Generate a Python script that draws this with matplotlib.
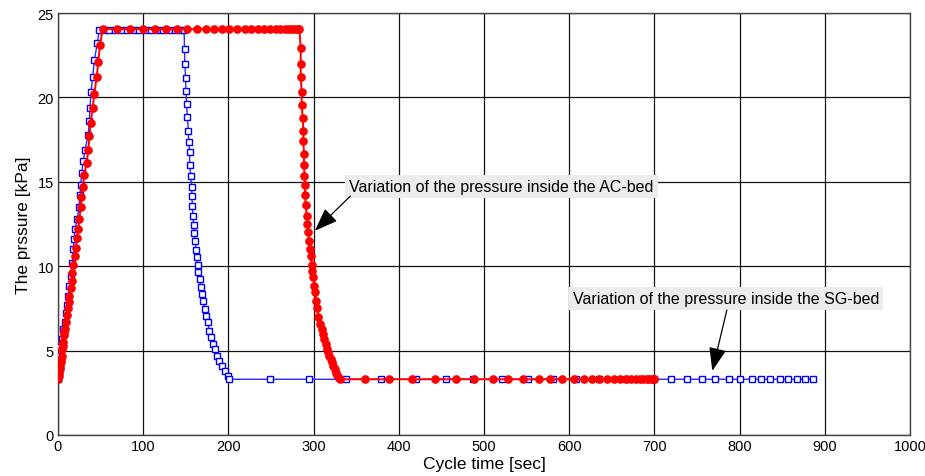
import matplotlib
matplotlib.use("Agg")
import matplotlib.pyplot as plt

plt.rcParams['font.family'] = ['Liberation Sans', 'DejaVu Sans']

# ---- SG-bed (blue squares) ----
sg_ramp_t = [0, 0.4, 1.5, 2.5, 4.3, 6.3, 7.8, 9.4, 10.8, 12.1, 13.5, 14.9, 16.8, 18.0, 18.8,
             20.0, 22.7, 24.5, 25.8, 26.6, 27.8, 29.7, 31.7, 35.6, 36.7, 37.6, 38.7, 40.7,
             42.6, 46.1, 48.5]
sg_ramp_p = [3.3, 4.1, 4.7, 5.2, 5.7, 6.3, 6.7, 7.2, 7.7, 8.25, 8.8, 9.4, 10.2, 11.0, 11.6,
             12.2, 12.8, 13.5, 14.2, 14.8, 15.5, 16.25, 16.9, 17.8, 18.6, 19.4, 20.3, 21.2,
             22.2, 23.2, 24.0]
sg_plateau_t = [54, 60, 67, 74, 81, 88, 95, 102, 109, 116, 123, 130, 137, 143, 148]
sg_plateau_p = [24.0] * len(sg_plateau_t)
sg_decay_t = [148.5, 148.8, 149.8, 150.2, 151.0, 151.8, 153.0, 153.4, 154.5, 154.5, 155.7,
              156.9, 157.3, 157.6, 158.4, 159.2, 160.0, 161.2, 161.9, 162.7, 164.3, 164.7,
              166.2, 167.4, 169.0, 170.6, 172.2, 173.7, 175.7, 177.6, 179.6, 182.4, 184.3,
              186.3, 189.0, 192.1, 196.0, 200.0]
sg_decay_p = [22.87, 22.0, 21.13, 20.38, 19.59, 18.82, 18.03, 17.38, 16.79, 16.02, 15.37,
              14.71, 14.14, 13.55, 12.99, 12.44, 11.95, 11.47, 10.96, 10.52, 10.07, 9.63,
              9.24, 8.78, 8.35, 7.95, 7.46, 7.06, 6.67, 6.18, 5.78, 5.39, 5.09, 4.7, 4.4,
              4.1, 3.81, 3.51]
sg_tail_t = [201, 249, 295, 338, 379, 420, 455, 487, 521, 552, 581, 608, 635, 667, 698, 719,
             738, 756, 771, 787, 800, 815, 825, 836, 847, 857, 867, 877, 886]
sg_tail_p = [3.3] * len(sg_tail_t)

# ---- AC-bed (red circles) ----
ac_ramp_t = [0, 0.6, 1.2, 1.8, 2.3, 3.1, 3.7, 4.3, 5.0, 5.6, 6.3, 7.0, 7.6, 8.2, 9.4, 10.2,
             11.4, 12.5, 13.3, 14.9, 16.0, 16.8, 18.0, 19.6, 21.1, 21.9, 23.9, 25.0, 26.6,
             27.4, 29.0, 30.9, 33.6, 35.6, 36.8, 38.3, 40.7, 42.6, 45.4, 47.3, 49.3, 52.4]
ac_ramp_p = [3.3, 3.5, 3.7, 3.9, 4.1, 4.3, 4.5, 4.7, 5.1, 5.3, 5.5, 5.9, 6.1, 6.3, 6.7, 7.1,
             7.5, 7.9, 8.25, 8.7, 9.1, 9.6, 10.1, 10.6, 11.1, 11.65, 12.2, 12.8, 13.5,
             14.1, 14.7, 15.4, 16.1, 16.9, 17.7, 18.5, 19.4, 20.2, 21.2, 22.1, 23.1, 24.05]
ac_plateau_t = [69, 84, 100, 114, 127, 140, 151, 163, 174, 183, 192, 201, 210, 219, 227, 235,
                242, 249, 256, 261, 266, 270, 274, 277, 280, 282, 283.3]
ac_plateau_p = [24.05] * len(ac_plateau_t)
ac_decay_t = [284.9, 284.9, 284.9, 286.0, 286.0, 287.2, 288.0, 288.0, 288.7, 288.7, 289.3,
              290.0, 290.0, 290.7, 291.9, 292.6, 293.8, 294.6, 295.8, 296.6, 297.7, 298.5,
              299.7, 300.5, 301.6, 302.8, 304.3, 305.5, 307.5, 309.5, 311.0, 312.5, 314.0,
              315.5, 317.0, 318.5, 320.0, 321.5, 323.0, 325.0, 326.5, 328.0, 330.0]
ac_decay_p = [22.9, 22.0, 21.2, 20.3, 19.55, 18.8, 18.0, 17.4, 16.65, 16.0, 15.35, 14.8,
              14.2, 13.6, 13.0, 12.5, 12.0, 11.5, 11.0, 10.6, 10.1, 9.7, 9.35, 8.85, 8.45,
              7.95, 7.5, 7.0, 6.6, 6.3, 6.0, 5.7, 5.4, 5.1, 4.9, 4.7, 4.5, 4.3, 4.1, 3.9,
              3.7, 3.55, 3.35]
ac_tail_t = [331, 360, 389, 416, 442, 467, 488, 510, 528, 546, 564, 578, 592, 606, 617, 627,
             635, 644, 653, 660, 667, 673, 678, 683, 687, 691, 694, 697, 699, 700]
ac_tail_p = [3.3] * len(ac_tail_t)

sg_t = sg_ramp_t + sg_plateau_t + sg_decay_t + sg_tail_t
sg_p = sg_ramp_p + sg_plateau_p + sg_decay_p + sg_tail_p
ac_t = ac_ramp_t + ac_plateau_t + ac_decay_t + ac_tail_t
ac_p = ac_ramp_p + ac_plateau_p + ac_decay_p + ac_tail_p

x_ticks = list(range(0, 1001, 100))
y_ticks = [0, 5, 10, 15, 20, 25]

fig = plt.figure(figsize=(9.25, 4.77), dpi=100)
ax = fig.add_axes([0.0627, 0.086, 0.9211, 0.8846])

ax.plot(sg_t, sg_p, color='#2a2aff', lw=1.0, marker='s', markersize=4,
        markerfacecolor='white', markeredgecolor='#0000ff', markeredgewidth=1.0, zorder=3)
ax.plot(ac_t, ac_p, color='#ff0000', lw=1.4, marker='o', markersize=5.2,
        markerfacecolor='#ff0000', markeredgecolor='#ff0000', zorder=4)

ax.set_xlim(0, 1000)
ax.set_ylim(0, 25)
ax.set_xticks(x_ticks)
ax.set_yticks(y_ticks)
ax.grid(True, color='#111111', lw=0.9)
ax.set_axisbelow(True)
for s in ax.spines.values():
    s.set_color('#444444')
    s.set_linewidth(1.0)
ax.tick_params(length=0, labelsize=10.5, pad=3)

ax.set_xlabel('Cycle time [sec]', fontsize=12.5, labelpad=2)
ax.set_ylabel('The prssure [kPa]', fontsize=12.5, labelpad=5)

bbox = dict(boxstyle='square,pad=0.25', fc='#ececec', ec='none')
ap = dict(arrowstyle='-|>,head_length=0.8,head_width=0.3', color='black', lw=0.9,
          shrinkA=0, shrinkB=0, mutation_scale=18)
ax.text(342, 14.75, 'Variation of the pressure inside the AC-bed', fontsize=11.5,
        va='center', ha='left', bbox=bbox, zorder=6)
ax.annotate('', xy=(301.5, 12.1), xytext=(343, 14.15), arrowprops=ap, zorder=6)
ax.text(604, 8.1, 'Variation of the pressure inside the SG-bed', fontsize=11.5,
        va='center', ha='left', bbox=bbox, zorder=6)
ax.annotate('', xy=(768, 3.8), xytext=(785, 7.4), arrowprops=ap, zorder=6)

fig.savefig('out.png', dpi=100)
